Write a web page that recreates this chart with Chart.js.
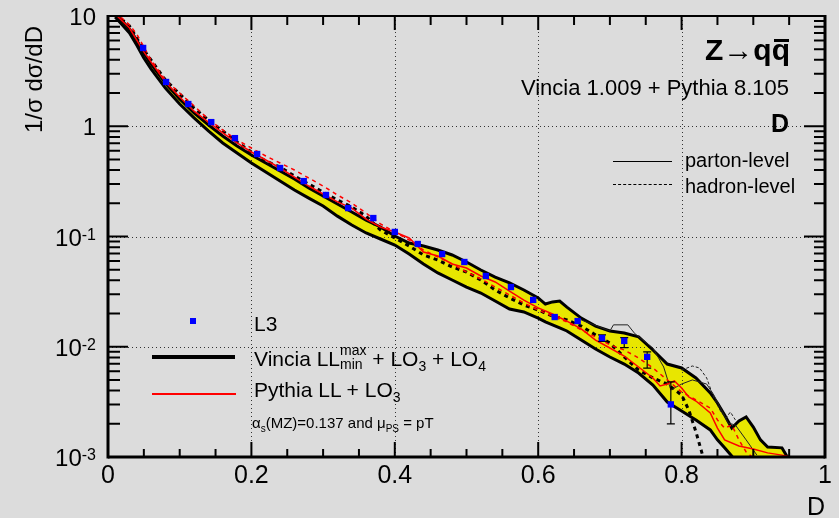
<!DOCTYPE html>
<html><head><meta charset="utf-8">
<script src="https://cdn.jsdelivr.net/npm/chart.js@4.4.0/dist/chart.umd.min.js"></script>
<style>
html,body{margin:0;padding:0;background:#dcdcdc;}
#wrap{position:relative;width:839px;height:518px;overflow:hidden;font-family:"Liberation Sans",Arial,sans-serif;color:#000;background:#dcdcdc;}
canvas{position:absolute;left:0;top:0;}
.t{position:absolute;white-space:nowrap;line-height:1;}
.ln{position:absolute;}
sub,sup{line-height:0;}
.stk{display:inline-block;vertical-align:middle;line-height:1;font-size:14px;text-align:left;position:relative;top:-3px;}
.qb{position:relative;display:inline-block;}
.qb i{position:absolute;left:2px;right:1px;top:4px;border-top:3px solid #000;}
</style></head>
<body><div id="wrap"><canvas id="c" width="839" height="518"></canvas>
<div class="t" style="right:49px;top:35px;font-size:30px;font-weight:bold;">Z→q<span class="qb">q<i></i></span></div>
<div class="t" style="right:50px;top:77px;font-size:22px;">Vincia 1.009 + Pythia 8.105</div>
<div class="t" style="right:50px;top:111px;font-size:25px;font-weight:bold;">D</div>
<div class="ln" style="left:613px;top:161px;width:59px;border-top:1px solid #000;"></div>
<div class="t" style="left:685px;top:150px;font-size:20px;">parton-level</div>
<div class="ln" style="left:613px;top:184px;width:59px;border-top:1px dashed #000;"></div>
<div class="t" style="left:685px;top:176px;font-size:20px;">hadron-level</div>
<div class="ln" style="left:190px;top:318px;width:6px;height:6px;background:#0000ff;"></div>
<div class="t" style="left:254px;top:313px;font-size:21px;">L3</div>
<div class="ln" style="left:152px;top:355px;width:83px;height:3.5px;background:#000;"></div>
<div class="t" style="left:254px;top:346px;font-size:21px;">Vincia LL<span class="stk">max<br>min</span> + LO<sub style="font-size:14px;">3</sub> + LO<sub style="font-size:14px;">4</sub></div>
<div class="ln" style="left:152px;top:393px;width:84px;height:1.5px;background:#ff0000;"></div>
<div class="t" style="left:254px;top:379px;font-size:21px;">Pythia LL + LO<sub style="font-size:14px;">3</sub></div>
<div class="t" style="left:252px;top:415px;font-size:15px;">α<sub style="font-size:10px;">s</sub>(MZ)=0.137 and μ<sub style="font-size:10px;">PS</sub> = pT</div>
<div class="t" style="left:22px;top:133px;font-size:24px;transform-origin:left top;transform:rotate(-90deg);">1/σ dσ/dD</div>
<div class="t" style="right:14px;top:494px;font-size:25px;">D</div>
</div>
<script>
// ---- data ----
const bandD = [0.01,0.02,0.03,0.04,0.05,0.06,0.08,0.10,0.12,0.14,0.16,0.18,0.20,0.22,0.24,0.26,0.28,0.30,0.32,0.34,0.36,0.38,0.40,0.42,0.44,0.46,0.48,0.50,0.52,0.54,0.56,0.58,0.60,0.61,0.62,0.63,0.64,0.66,0.68,0.70,0.72,0.74,0.76,0.78,0.80,0.82,0.84,0.85,0.86,0.87,0.88,0.89,0.90,0.91,0.92,0.94,0.95];
const vinciaUpper = [10.4,9.01,7.62,6.06,4.62,3.67,2.47,1.77,1.32,1.03,0.816,0.662,0.548,0.464,0.393,0.332,0.275,0.233,0.197,0.167,0.141,0.122,0.101,0.0873,0.0820,0.0754,0.0680,0.0587,0.0497,0.0429,0.0379,0.0327,0.0277,0.0244,0.0255,0.0260,0.0229,0.0182,0.0154,0.0139,0.0133,0.0123,0.00934,0.00697,0.00642,0.00521,0.00381,0.00309,0.00240,0.00183,0.00212,0.00231,0.00187,0.00143,0.00123,0.00121,0.00094];
const vinciaLower = [9.79,8.29,7.01,5.46,4.16,3.31,2.22,1.59,1.19,0.906,0.705,0.572,0.464,0.385,0.319,0.264,0.223,0.189,0.153,0.127,0.1076,0.0949,0.0837,0.0694,0.0563,0.0467,0.0403,0.0348,0.0307,0.0260,0.0220,0.0207,0.0182,0.0168,0.0158,0.0148,0.0139,0.0115,0.00954,0.00807,0.00697,0.00578,0.00450,0.00315,0.00261,0.00217,0.00176,0.00143,0.00121,0.00102,0.0007,0.0007,0.0007,0.0007,0.0007,0.0007,0.0007];

const vinciaHadD = [0.01,0.03,0.05,0.08,0.10,0.12,0.14,0.16,0.18,0.20,0.22,0.24,0.26,0.28,0.30,0.32,0.34,0.36,0.38,0.40,0.42,0.44,0.46,0.48,0.50,0.52,0.54,0.56,0.58,0.60,0.62,0.64,0.66,0.68,0.70,0.72,0.74,0.76,0.78,0.80,0.81,0.82,0.83,0.835];
const vinciaHad = [10.4,8.12,4.92,2.63,1.96,1.46,1.14,0.906,0.720,0.584,0.484,0.427,0.354,0.299,0.253,0.214,0.185,0.153,0.1146,0.0969,0.0820,0.0680,0.0612,0.0529,0.0476,0.0403,0.0327,0.0277,0.0239,0.0215,0.0190,0.0175,0.0154,0.0128,0.0108,0.00807,0.00615,0.00521,0.00459,0.00365,0.00267,0.00169,0.0010,0.00076];

const vinciaThinD = [0.66,0.70,0.705,0.725,0.735,0.76,0.775,0.785,0.80,0.815,0.835,0.845,0.86,0.865,0.875,0.89,0.905];
const vinciaThin = [0.0175,0.0139,0.0158,0.0158,0.0131,0.00974,0.00655,0.00405,0.00459,0.00500,0.00459,0.00365,0.00235,0.00203,0.00195,0.00143,0.00104];
const vinciaThinDashD = [0.80,0.815,0.825,0.835,0.845,0.855,0.862,0.868,0.875];
const vinciaThinDash = [0.00615,0.00669,0.00642,0.00521,0.00343,0.00256,0.00226,0.00256,0.00217];

const pythiaPartD = [0.01,0.03,0.05,0.08,0.10,0.12,0.14,0.16,0.18,0.20,0.22,0.24,0.26,0.28,0.30,0.32,0.34,0.36,0.38,0.40,0.42,0.44,0.46,0.48,0.50,0.52,0.54,0.56,0.58,0.60,0.62,0.64,0.66,0.68,0.70,0.72,0.74,0.76,0.77,0.78,0.79,0.80,0.81,0.82,0.84,0.85,0.86,0.88,0.90,0.92,0.94,0.96];
const pythiaPart = [10.4,7.78,4.72,2.52,1.84,1.37,1.09,0.869,0.705,0.584,0.494,0.418,0.346,0.287,0.243,0.206,0.181,0.144,0.122,0.110,0.0969,0.0723,0.0665,0.0563,0.0518,0.0438,0.0387,0.0320,0.0265,0.0225,0.0198,0.0171,0.0145,0.0115,0.00974,0.00824,0.00655,0.00521,0.00441,0.00459,0.00489,0.00423,0.00350,0.00322,0.00251,0.00183,0.00143,0.00126,0.00118,0.00109,0.00104,0.00098];

const pythiaHadD = [0.01,0.03,0.04,0.06,0.08,0.10,0.12,0.14,0.16,0.18,0.20,0.22,0.24,0.26,0.28,0.30,0.32,0.34,0.36,0.38,0.40,0.42,0.44,0.46,0.48,0.50,0.52,0.54,0.56,0.58,0.60,0.62,0.64,0.66,0.68,0.70,0.72,0.74,0.76,0.78,0.80,0.82,0.84,0.85,0.86,0.87,0.88,0.89,0.90];
const pythiaHad = [10.9,8.29,6.87,3.99,2.63,2.00,1.53,1.16,0.925,0.750,0.635,0.537,0.464,0.401,0.339,0.287,0.238,0.201,0.163,0.130,0.110,0.0930,0.0754,0.0652,0.0563,0.0476,0.0412,0.0348,0.0295,0.0249,0.0215,0.0190,0.0168,0.0142,0.0123,0.0104,0.00934,0.00791,0.00642,0.00500,0.00389,0.00329,0.00278,0.00217,0.00183,0.00195,0.00143,0.00111,0.00098];

const l3D = [0.049,0.081,0.112,0.144,0.177,0.208,0.240,0.273,0.304,0.335,0.370,0.400,0.432,0.466,0.497,0.527,0.562,0.593,0.623,0.655,0.689,0.720,0.752,0.785];
const l3 = [5.13,2.52,1.59,1.09,0.78,0.56,0.418,0.318,0.238,0.181,0.147,0.110,0.0855,0.0693,0.0587,0.0438,0.0348,0.0266,0.0186,0.0171,0.0120,0.0113,0.0081,0.0030];
const l3ErrHi = [null,null,null,null,null,null,null,null,null,null,null,null,null,null,null,null,null,null,null,null,0.0128,0.0121,0.0090,0.0048];
const l3ErrLo = [null,null,null,null,null,null,null,null,null,null,null,null,null,null,null,null,null,null,null,null,0.0112,0.0098,0.0064,0.0020];

const xTicks = [0,0.2,0.4,0.6,0.8,1];
const xTickLabels = ['0','0.2','0.4','0.6','0.8','1'];
const yDecades = [10,1,0.1,0.01,0.001];

const pts = (xs, ys) => xs.map((d, i) => ({x: d, y: ys[i]}));

const decor = {
  id: 'decor',
  beforeDatasetsDraw(chart) {
    const {ctx, chartArea: a, scales: {x, y}} = chart;
    ctx.save();
    ctx.strokeStyle = '#333'; ctx.lineWidth = 1; ctx.setLineDash([1, 3]);
    xTicks.slice(1, -1).forEach(v => {
      const px = Math.round(x.getPixelForValue(v)) + 0.5;
      ctx.beginPath(); ctx.moveTo(px, a.top); ctx.lineTo(px, a.bottom); ctx.stroke();
    });
    yDecades.slice(1, -1).forEach(v => {
      const py = Math.round(y.getPixelForValue(v)) + 0.5;
      ctx.beginPath(); ctx.moveTo(a.left, py); ctx.lineTo(a.right, py); ctx.stroke();
    });
    ctx.restore();
  },
  beforeDatasetDraw(chart, args) {
    if (args.index !== 0) return;
    const {ctx, scales: {x, y}} = chart;
    ctx.save();
    ctx.strokeStyle = '#000'; ctx.lineWidth = 1.2; ctx.setLineDash([]);
    l3D.forEach((d, i) => {
      if (l3ErrHi[i] == null) return;
      const px = x.getPixelForValue(d);
      const ph = y.getPixelForValue(l3ErrHi[i]);
      const pl = y.getPixelForValue(l3ErrLo[i]);
      ctx.beginPath();
      ctx.moveTo(px, ph); ctx.lineTo(px, pl);
      ctx.moveTo(px - 4, ph); ctx.lineTo(px + 4, ph);
      ctx.moveTo(px - 4, pl); ctx.lineTo(px + 4, pl);
      ctx.stroke();
    });
    ctx.restore();
  },
  afterDraw(chart) {
    const {ctx, chartArea: a, scales: {x, y}} = chart;
    ctx.save();
    ctx.strokeStyle = '#000'; ctx.setLineDash([]);
    ctx.lineWidth = 2;
    for (let k = 1; k < 20; k++) {
      const v = k * 0.05;
      const major = k % 4 === 0;
      const px = x.getPixelForValue(v);
      ctx.beginPath();
      ctx.moveTo(px, a.bottom); ctx.lineTo(px, a.bottom - (major ? 15 : 8));
      ctx.moveTo(px, a.top); ctx.lineTo(px, a.top + (major ? 14 : 9));
      ctx.stroke();
    }
    for (let e = -3; e <= 0; e++) {
      for (let m = 1; m <= 9; m++) {
        const v = m * Math.pow(10, e);
        if (m === 1 && e === -3) continue;
        const py = y.getPixelForValue(v);
        const major = m === 1;
        ctx.beginPath();
        ctx.moveTo(a.left, py); ctx.lineTo(a.left + (major ? 20 : 12), py);
        ctx.moveTo(a.right, py); ctx.lineTo(a.right - (major ? 21 : 11), py);
        ctx.stroke();
      }
    }
    ctx.lineWidth = 3;
    ctx.beginPath(); ctx.moveTo(a.left, a.top - 1); ctx.lineTo(a.left, a.bottom + 1.5); ctx.stroke();
    ctx.beginPath(); ctx.moveTo(a.right, a.top - 1); ctx.lineTo(a.right, a.bottom + 1.5); ctx.stroke();
    ctx.beginPath(); ctx.moveTo(a.left, a.bottom); ctx.lineTo(a.right, a.bottom); ctx.stroke();
    ctx.lineWidth = 2;
    ctx.beginPath(); ctx.moveTo(a.left, a.top); ctx.lineTo(a.right, a.top); ctx.stroke();
    ctx.fillStyle = '#000';
    ctx.textAlign = 'right'; ctx.textBaseline = 'alphabetic';
    const right = a.left - 12;
    yDecades.forEach(v => {
      const e = Math.round(Math.log10(v));
      const py = y.getPixelForValue(v);
      ctx.font = '24px "Liberation Sans", Arial, sans-serif';
      if (e === 1 || e === 0) {
        ctx.fillText(e === 1 ? '10' : '1', right, py + 9);
      } else {
        const sup = String(e);
        ctx.font = '16px "Liberation Sans", Arial, sans-serif';
        const sw = ctx.measureText(sup).width;
        ctx.fillText(sup, right, py + 3);
        ctx.font = '24px "Liberation Sans", Arial, sans-serif';
        ctx.fillText('10', right - sw, py + 9);
      }
    });
    ctx.restore();
  }
};

const lineDs = (label, xs, ys, color, width, dash) => ({
  label, data: pts(xs, ys), borderColor: color, borderWidth: width, borderDash: dash || [],
  pointRadius: 0, tension: 0, fill: false, clip: 0
});

new Chart(document.getElementById('c'), {
  type: 'line',
  data: {
    datasets: [
      { label: 'L3', data: pts(l3D, l3), showLine: false, pointStyle: 'rect', pointRadius: 4.5,
        backgroundColor: '#0000ff', borderWidth: 0, clip: 0 },
      lineDs('Pythia parton', pythiaPartD, pythiaPart, '#ff0000', 1.5),
      lineDs('Pythia hadron', pythiaHadD, pythiaHad, '#ff0000', 1.5, [4, 4]),
      lineDs('Vincia thin', vinciaThinD, vinciaThin, '#222', 1),
      lineDs('Vincia thin dashed', vinciaThinDashD, vinciaThinDash, '#222', 1, [3, 2]),
      lineDs('Vincia hadron', vinciaHadD, vinciaHad, '#000', 3, [4, 4]),
      { label: 'Vincia max', data: pts(bandD, vinciaUpper), borderColor: '#000', borderWidth: 3,
        pointRadius: 0, tension: 0, fill: '+1', backgroundColor: '#e8e600', clip: 0 },
      lineDs('Vincia min', bandD, vinciaLower, '#000', 3)
    ]
  },
  options: {
    responsive: false, animation: false, devicePixelRatio: 1,
    layout: { padding: { left: 0, right: 14, top: 16, bottom: 0 } },
    plugins: { legend: { display: false }, tooltip: { enabled: false }, filler: { drawTime: 'beforeDatasetsDraw' } },
    scales: {
      x: { type: 'linear', min: 0, max: 1,
           grid: { display: false, drawTicks: false }, border: { display: false },
           afterBuildTicks: s => { s.ticks = xTicks.map(v => ({ value: v })); },
           ticks: { autoSkip: false, maxRotation: 0, padding: 4, color: '#000',
                    callback: (v) => { const i = xTicks.findIndex(t => Math.abs(t - v) < 1e-9); return i >= 0 ? xTickLabels[i] : ''; },
                    font: { family: '"Liberation Sans", Arial, sans-serif', size: 25 } },
           afterFit: s => { s.height = 61; } },
      y: { type: 'logarithmic', min: 0.001, max: 10,
           grid: { display: false, drawTicks: false }, border: { display: false },
           ticks: { display: false },
           afterFit: s => { s.width = 108; } }
    }
  },
  plugins: [decor]
});
</script>
</body></html>
